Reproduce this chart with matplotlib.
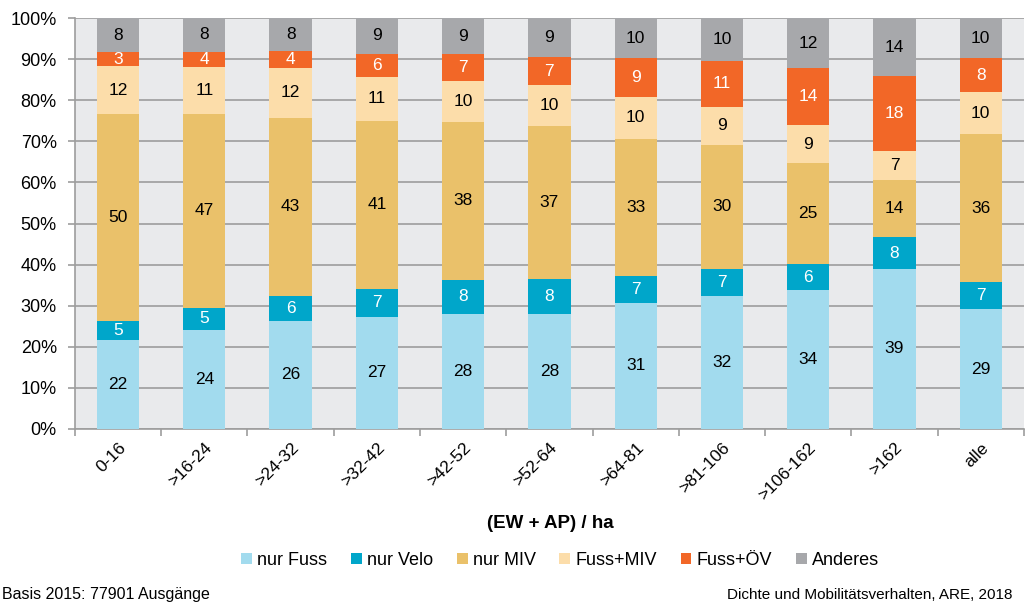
import matplotlib
matplotlib.use("Agg")
import matplotlib.pyplot as plt
import numpy as np

plt.rcParams['font.family'] = ['Liberation Sans', 'DejaVu Sans']

# Categories: (EW + AP) / ha
categories = ['0-16', '>16-24', '>24-32', '>32-42', '>42-52', '>52-64',
              '>64-81', '>81-106', '>106-162', '>162', 'alle']

# Shares in percent
nur_fuss = [21.6, 24.1, 26.3, 27.2, 28.0, 28.0, 30.7, 32.4, 33.8, 38.9, 29.1]
nur_velo = [4.6, 5.4, 6.1, 6.9, 8.3, 8.4, 6.6, 6.6, 6.3, 7.8, 6.6]
nur_miv = [50.4, 47.2, 43.4, 40.9, 38.4, 37.3, 33.4, 30.1, 24.6, 14.0, 36.1]
fuss_miv = [11.7, 11.4, 12.0, 10.7, 9.9, 10.0, 10.1, 9.4, 9.2, 6.9, 10.2]
fuss_oev = [3.4, 3.8, 4.2, 5.7, 6.6, 6.9, 9.4, 11.2, 14.0, 18.3, 8.3]
anderes = [8.3, 8.1, 8.0, 8.6, 8.8, 9.4, 9.8, 10.3, 12.1, 14.1, 9.7]

series_names = ['nur Fuss', 'nur Velo', 'nur MIV', 'Fuss+MIV', 'Fuss+ÖV', 'Anderes']
series = [nur_fuss, nur_velo, nur_miv, fuss_miv, fuss_oev, anderes]
colors = ['#A2DBEE', '#00A6CA', '#EAC16A', '#FCDDAA', '#F26727', '#A7A8AB']
text_colors = ['black', 'white', 'black', 'black', 'white', 'black']

fig = plt.figure(figsize=(10.26, 6.09), dpi=100)
ax = fig.add_axes([0.073, 0.296, 0.925, 0.674])
ax.set_facecolor('#E9EAEC')

x = np.arange(len(categories))
bottom = np.zeros(len(categories))
for name, vals, col, tcol in zip(series_names, series, colors, text_colors):
    vals = np.array(vals)
    ax.bar(x, vals, bottom=bottom, width=0.49, color=col, label=name, zorder=3)
    for xi, b, v in zip(x, bottom, vals):
        ax.text(xi, b + v / 2, f"{int(round(v))}", ha='center', va='center',
                fontsize=12.5, color=tcol, zorder=4)
    bottom += vals

ax.set_xlim(-0.5, len(categories) - 0.5)
ax.set_ylim(0, 100)
ax.set_yticks(np.arange(0, 101, 10))
ax.set_yticklabels([f"{v}%" for v in range(0, 101, 10)], fontsize=13)
ax.yaxis.grid(True, color='#9D9D9D', linewidth=1.2, zorder=1)

ax.set_xticks(x)
ax.set_xticklabels(categories, rotation=45, ha='right', va='top',
                   rotation_mode='anchor', fontsize=12.5)
ax.tick_params(axis='x', length=0, pad=8)
ax.set_xticks(np.arange(-0.5, len(categories)), minor=True)
ax.tick_params(axis='x', which='minor', length=5, color='#9D9D9D', width=1.2)
ax.tick_params(axis='y', length=5, color='#9D9D9D', width=1.2, pad=8)

for s in ['top', 'right']:
    ax.spines[s].set_visible(False)
for s in ['left', 'bottom']:
    ax.spines[s].set_color('#9D9D9D')
    ax.spines[s].set_linewidth(1.2)

fig.text(0.536, 0.141, '(EW + AP) / ha', ha='center', va='center',
         fontsize=13.5, fontweight='bold')

handles, labels = ax.get_legend_handles_labels()
fig.legend(handles, labels, loc='center', bbox_to_anchor=(0.546, 0.080), ncol=6,
           frameon=False, fontsize=13, handlelength=0.6, handleheight=0.6,
           handletextpad=0.3, columnspacing=1.3)

fig.text(0.002, 0.012, 'Basis 2015: 77901 Ausgänge', ha='left', va='bottom', fontsize=11.5)
fig.text(0.987, 0.012, 'Dichte und Mobilitätsverhalten, ARE, 2018', ha='right',
         va='bottom', fontsize=11)

fig.savefig('out.png', dpi=100)
